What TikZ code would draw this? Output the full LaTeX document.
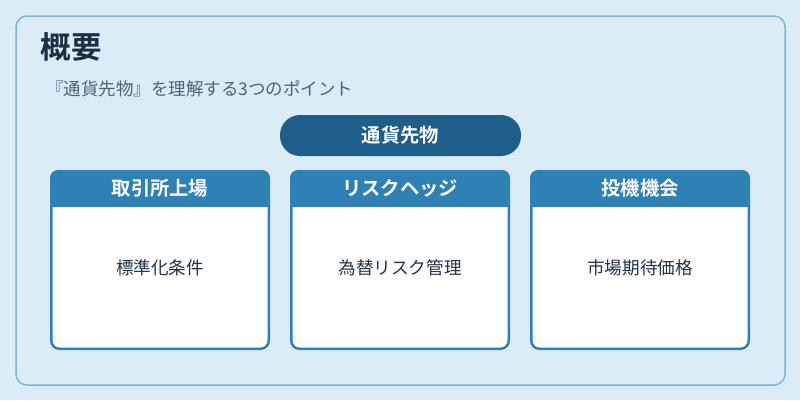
\documentclass[tikz,border=0pt]{standalone}
\usepackage{fontspec}
\setmainfont{Noto Sans CJK JP}
\newfontfamily\jpbold{Noto Sans CJK JP Bold}
\definecolor{bgc}{HTML}{DCECF7}
\definecolor{panelborder}{HTML}{7FB2D4}
\definecolor{titlec}{HTML}{1A2F45}
\definecolor{subc}{HTML}{4A6378}
\definecolor{pillc}{HTML}{1F5E8A}
\definecolor{cardc}{HTML}{2E80B5}
\definecolor{bodyc}{HTML}{1E3347}
\begin{document}
\begin{tikzpicture}[x=1pt,y=-1pt,
  headtxt/.style={text=white,font=\jpbold\fontsize{19.3}{22}\selectfont},
  bodytxt/.style={text=bodyc,font=\fontsize{17.6}{20}\selectfont}]
\useasboundingbox (0,0) rectangle (800,400);
\fill[bgc] (0,0) rectangle (800,400);
\draw[panelborder,line width=1.5pt,fill=bgc,rounded corners=11pt] (16,16) rectangle (785,385);
\node[anchor=west,text=titlec,font=\jpbold\fontsize{30.5}{34}\selectfont,inner sep=0pt] (title) at (40.5,47) {概要};
\node[anchor=west,text=subc,font=\fontsize{17.5}{20}\selectfont,inner sep=0pt] (sub) at (46,89) {『通貨先物』を理解する3つのポイント};
\node[fill=pillc,rounded corners=20pt,minimum width=241pt,minimum height=41pt,inner sep=0pt,headtxt] (pill) at (400.5,135.5) {通貨先物};
\foreach \x/\h/\b/\n in {50/取引所上場/標準化条件/a,290/リスクヘッジ/為替リスク管理/b,530/投機機会/市場期待価格/c}{
  \begin{scope}
  \clip[rounded corners=8pt] (\x,170) rectangle (\x+220,350);
  \fill[white] (\x,170) rectangle (\x+220,350);
  \fill[cardc] (\x,170) rectangle (\x+220,207);
  \end{scope}
  \draw[cardc,line width=2.5pt,rounded corners=8pt] (\x+1.25,171.25) rectangle (\x+218.75,348.75);
  \node[headtxt,inner sep=0pt] (h\n) at (\x+110,188.5) {\h};
  \node[bodytxt,inner sep=0pt] (t\n) at (\x+110,267.5) {\b};
}
\end{tikzpicture}
\end{document}
